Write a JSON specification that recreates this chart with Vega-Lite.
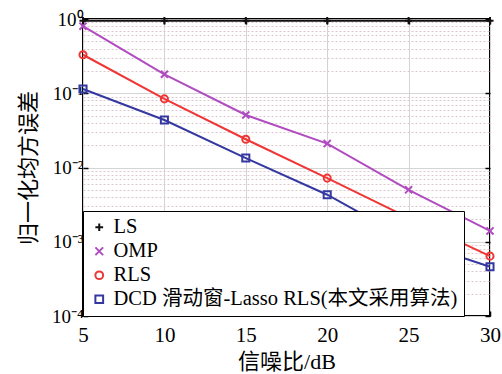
{
  "$schema": "https://vega.github.io/schema/vega-lite/v6.json",
  "autosize": "none",
  "padding": {"left": 83, "top": 19, "right": 12, "bottom": 58},
  "width": 407,
  "height": 297,
  "background": "white",
  "config": {
    "view": {"stroke": "black", "strokeWidth": 2},
    "font": "Liberation Serif, Noto Sans CJK SC"
  },
  "data": {
    "values": [
      {"snr": 5, "nmse": 0.95, "method": "LS"},
      {"snr": 10, "nmse": 0.95, "method": "LS"},
      {"snr": 15, "nmse": 0.95, "method": "LS"},
      {"snr": 20, "nmse": 0.95, "method": "LS"},
      {"snr": 25, "nmse": 0.95, "method": "LS"},
      {"snr": 30, "nmse": 0.95, "method": "LS"},
      {"snr": 5, "nmse": 0.80, "method": "OMP"},
      {"snr": 10, "nmse": 0.18, "method": "OMP"},
      {"snr": 15, "nmse": 0.051, "method": "OMP"},
      {"snr": 20, "nmse": 0.021, "method": "OMP"},
      {"snr": 25, "nmse": 0.0050, "method": "OMP"},
      {"snr": 30, "nmse": 0.0014, "method": "OMP"},
      {"snr": 5, "nmse": 0.33, "method": "RLS"},
      {"snr": 10, "nmse": 0.084, "method": "RLS"},
      {"snr": 15, "nmse": 0.024, "method": "RLS"},
      {"snr": 20, "nmse": 0.0072, "method": "RLS"},
      {"snr": 25, "nmse": 0.0021, "method": "RLS"},
      {"snr": 30, "nmse": 0.00064, "method": "RLS"},
      {"snr": 5, "nmse": 0.114, "method": "DCD 滑动窗-Lasso RLS(本文采用算法)"},
      {"snr": 10, "nmse": 0.0436, "method": "DCD 滑动窗-Lasso RLS(本文采用算法)"},
      {"snr": 15, "nmse": 0.0134, "method": "DCD 滑动窗-Lasso RLS(本文采用算法)"},
      {"snr": 20, "nmse": 0.0043, "method": "DCD 滑动窗-Lasso RLS(本文采用算法)"},
      {"snr": 25, "nmse": 0.00106, "method": "DCD 滑动窗-Lasso RLS(本文采用算法)"},
      {"snr": 30, "nmse": 0.00046, "method": "DCD 滑动窗-Lasso RLS(本文采用算法)"}
    ]
  },
  "layer": [
    {
      "mark": {"type": "line", "strokeWidth": 2},
      "encoding": {
        "x": {
          "field": "snr", "type": "quantitative",
          "scale": {"domain": [5, 30], "nice": false, "zero": false},
          "axis": {
            "values": [5, 10, 15, 20, 25, 30],
            "title": "信噪比/dB",
            "titleFont": "Liberation Serif, Noto Sans CJK SC",
            "titleFontSize": 22, "titleFontWeight": "normal", "titleColor": "black", "titlePadding": 6,
            "labelFont": "Liberation Serif", "labelFontSize": 21, "labelColor": "black", "labelPadding": 13,
            "labelFlush": false, "labelOverlap": false,
            "domain": false, "tickSize": -5, "tickColor": "black", "tickWidth": 1.5,
            "grid": true, "gridColor": "#d4d4d4", "gridWidth": 1
          }
        },
        "y": {
          "field": "nmse", "type": "quantitative",
          "scale": {"type": "log", "domain": [0.0001, 1], "nice": false},
          "axis": {
            "values": [0.0001,0.0002,0.0003,0.0004,0.0005,0.0006,0.0007,0.0008,0.0009,0.001,0.002,0.003,0.004,0.005,0.006,0.007,0.008,0.009,0.01,0.02,0.03,0.04,0.05,0.06,0.07,0.08,0.09,0.1,0.2,0.3,0.4,0.5,0.6,0.7,0.8,0.9,1],
            "labelExpr": "abs(log(datum.value)/LN10 - round(log(datum.value)/LN10)) < 0.000001 ? '10' + (round(log(datum.value)/LN10) == 0 ? '⁰' : round(log(datum.value)/LN10) == -1 ? '⁻¹' : round(log(datum.value)/LN10) == -2 ? '⁻²' : round(log(datum.value)/LN10) == -3 ? '⁻³' : '⁻⁴') : ''",
            "title": "归一化均方误差",
            "titleFont": "Liberation Serif, Noto Sans CJK SC",
            "titleFontSize": 22, "titleFontWeight": "normal", "titleColor": "black", "titlePadding": 11,
            "labelFont": "Liberation Serif", "labelFontSize": 19, "labelColor": "black", "labelPadding": 5,
            "labelFlush": false, "labelOverlap": false,
            "domain": false, "tickSize": -5, "tickColor": "black", "tickWidth": 1.5,
            "tickOpacity": {"condition": {"test": "abs(log(datum.value)/LN10 - round(log(datum.value)/LN10)) < 0.000001", "value": 1}, "value": 0},
            "grid": true,
            "gridColor": {"condition": {"test": "abs(log(datum.value)/LN10 - round(log(datum.value)/LN10)) < 0.000001", "value": "#d4d4d4"}, "value": "#dcc8cc"},
            "gridDash": {"condition": {"test": "abs(log(datum.value)/LN10 - round(log(datum.value)/LN10)) < 0.000001", "value": []}, "value": [2, 2]},
            "gridWidth": 1
          }
        },
        "color": {
          "field": "method", "type": "nominal",
          "scale": {
            "domain": ["LS", "OMP", "RLS", "DCD 滑动窗-Lasso RLS(本文采用算法)"],
            "range": ["#111111", "#b04cc0", "#f03535", "#3438a0"]
          },
          "legend": {
            "title": null, "orient": "bottom-left", "offset": 0,
            "labelFont": "Liberation Serif, Noto Sans CJK SC", "labelFontSize": 20.5, "labelColor": "black", "labelLimit": 500,
            "rowPadding": 3, "padding": 6, "fillColor": "white", "strokeColor": "black",
            "symbolStrokeWidth": 2, "symbolSize": 60
          }
        },
        "order": {"field": "snr"}
      }
    },
    {
      "mark": {"type": "point", "filled": false, "strokeWidth": 2, "size": 50, "opacity": 1},
      "encoding": {
        "x": {"field": "snr", "type": "quantitative", "axis": null},
        "y": {"field": "nmse", "type": "quantitative", "axis": null},
        "color": {"field": "method", "type": "nominal"},
        "shape": {
          "field": "method", "type": "nominal",
          "scale": {
            "domain": ["LS", "OMP", "RLS", "DCD 滑动窗-Lasso RLS(本文采用算法)"],
            "range": ["M-1,0L1,0M0,-1L0,1", "M-1,-1L1,1M1,-1L-1,1", "circle", "square"]
          },
          "legend": {
            "title": null, "orient": "bottom-left", "offset": 0,
            "labelFont": "Liberation Serif, Noto Sans CJK SC", "labelFontSize": 20.5, "labelColor": "black", "labelLimit": 500,
            "rowPadding": 3, "padding": 6, "fillColor": "white", "strokeColor": "black",
            "symbolStrokeWidth": 2, "symbolSize": 60
          }
        }
      }
    },
    {
      "mark": {"type": "point", "opacity": 0},
      "encoding": {
        "x": {
          "field": "snr", "type": "quantitative",
          "axis": {"orient": "top", "values": [5, 10, 15, 20, 25, 30], "labels": false, "title": null, "domain": false, "grid": false, "tickSize": -5, "tickColor": "black", "tickWidth": 1.5}
        },
        "y": {
          "field": "nmse", "type": "quantitative",
          "axis": {"orient": "right", "values": [0.0001, 0.001, 0.01, 0.1, 1], "labels": false, "title": null, "domain": false, "grid": false, "tickSize": -5, "tickColor": "black", "tickWidth": 1.5}
        }
      }
    }
  ],
  "resolve": {"axis": {"x": "independent", "y": "independent"}}
}
